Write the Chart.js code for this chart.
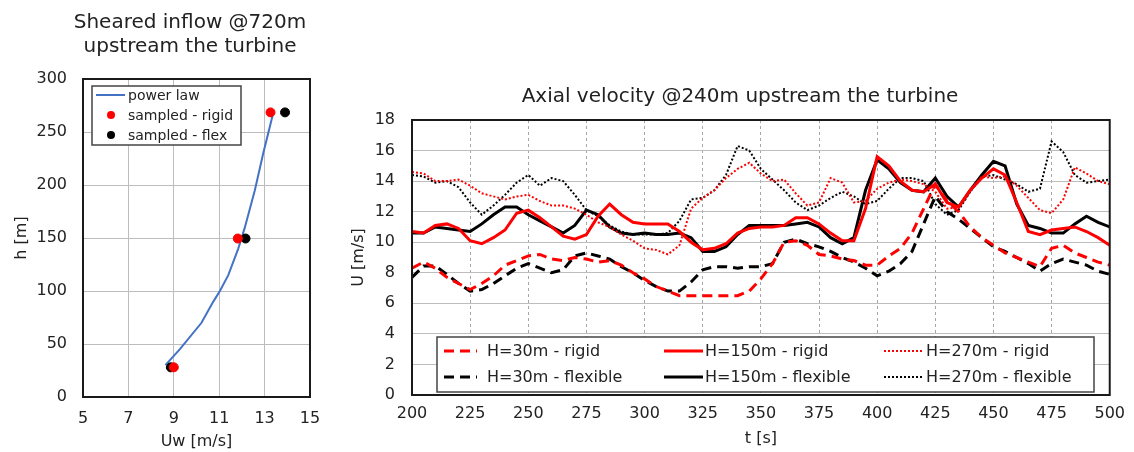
<!DOCTYPE html>
<html>
<head>
<meta charset="utf-8">
<script src="https://cdn.jsdelivr.net/npm/chart.js@4.4.0/dist/chart.umd.min.js"></script>
<style>
    body { margin: 0; background: #fff; }
    #profile { position: absolute; left: 0; top: 0; }
    #axial { position: absolute; left: 340px; top: 0; }
</style>
</head>
<body>
<canvas id="profile" width="340" height="452"></canvas>
<canvas id="axial" width="794" height="452"></canvas>
<script>
// Left chart: inflow profile
var profileU = [8.63, 9.26, 10.22, 10.74, 11.03, 11.40, 11.84, 12.13, 12.57, 12.94, 13.38];
var profileH = [30, 45, 70, 90, 100, 115, 140, 160, 195, 230, 268];
var sampleH = [28, 149.5, 268.5];
var rigidU = [9.00, 11.82, 13.26];
var flexU = [8.87, 12.16, 13.90];

// Right chart: axial velocity time series
var time = [200, 205, 210, 215, 220, 225, 230, 235, 240, 245,
            250, 255, 260, 265, 270, 275, 280, 285, 290, 295,
            300, 305, 310, 315, 320, 325, 330, 335, 340, 345,
            350, 355, 360, 365, 370, 375, 380, 385, 390, 395,
            400, 405, 410, 415, 420, 425, 430, 435, 440, 445,
            450, 455, 460, 465, 470, 475, 480, 485, 490, 495,
            500];
var rigid30 = [8.3, 8.7, 8.3, 7.7, 7.3, 6.9, 7.3, 7.8, 8.5, 8.8,
               9.1, 9.2, 8.9, 8.8, 9.0, 8.9, 8.7, 8.8, 8.5, 8.0,
               7.6, 7.1, 6.8, 6.5, 6.5, 6.5, 6.5, 6.5, 6.5, 6.8,
               7.6, 8.6, 10.0, 10.1, 9.8, 9.2, 9.1, 8.9, 8.8, 8.5,
               8.5, 9.1, 9.6, 10.6, 12.2, 13.8, 12.7, 12.0, 11.0, 10.3,
               9.8, 9.3, 9.0, 8.7, 8.4, 9.6, 9.8, 9.3, 9.0, 8.7,
               8.5];
var flex30 = [7.7, 8.45, 8.45, 7.9, 7.3, 6.8, 6.9, 7.3, 7.8, 8.3,
              8.6, 8.3, 8.0, 8.2, 9.1, 9.3, 9.1, 8.9, 8.4, 8.0,
              7.5, 7.1, 6.8, 6.8, 7.4, 8.2, 8.4, 8.4, 8.3, 8.4,
              8.4, 8.6, 10.0, 10.2, 9.9, 9.7, 9.4, 9.0, 8.7, 8.3,
              7.8, 8.1, 8.6, 9.4, 11.2, 13.0, 12.0, 11.5, 10.9, 10.3,
              9.7, 9.4, 9.0, 8.6, 8.1, 8.6, 8.9, 8.7, 8.5, 8.1,
              7.9];
var rigid150 = [10.7, 10.6, 11.1, 11.2, 10.9, 10.1, 9.9, 10.3, 10.8, 11.9,
                12.1, 11.6, 11.0, 10.4, 10.2, 10.5, 11.7, 12.5, 11.8, 11.3,
                11.2, 11.2, 11.2, 10.7, 10.0, 9.5, 9.6, 9.9, 10.6, 10.9,
                11.0, 11.0, 11.1, 11.6, 11.6, 11.2, 10.6, 10.1, 10.1, 12.2,
                15.6, 15.0, 14.0, 13.4, 13.3, 13.8, 12.6, 12.3, 13.4, 14.2,
                14.8, 14.4, 12.6, 10.7, 10.5, 10.8, 10.9, 11.0, 10.7, 10.3,
                9.8];
var flex150 = [10.6, 10.6, 11.0, 10.9, 10.8, 10.7, 11.2, 11.8, 12.3, 12.3,
               11.8, 11.4, 11.0, 10.6, 11.1, 12.1, 11.8, 11.0, 10.6, 10.5,
               10.6, 10.5, 10.5, 10.6, 10.3, 9.4, 9.4, 9.7, 10.5, 11.1,
               11.1, 11.1, 11.1, 11.2, 11.3, 11.0, 10.3, 9.9, 10.3, 13.4,
               15.4, 14.8, 13.9, 13.4, 13.3, 14.2, 13.0, 12.3, 13.4, 14.4,
               15.3, 15.0, 12.5, 11.1, 10.9, 10.6, 10.6, 11.2, 11.7, 11.3,
               11.0];
var rigid270 = [14.6, 14.5, 14.0, 14.0, 14.1, 13.7, 13.2, 13.0, 12.8, 13.0,
                13.1, 12.7, 12.4, 12.4, 12.2, 11.8, 11.3, 11.0, 10.5, 10.1,
                9.6, 9.5, 9.2, 9.8, 12.2, 12.9, 13.4, 14.2, 14.8, 15.2,
                14.5, 14.0, 14.1, 13.2, 12.4, 12.6, 14.2, 13.9, 12.6, 12.7,
                13.5, 13.9, 14.1, 14.0, 13.8, 13.3, 12.2, 12.3, 13.4, 14.3,
                14.2, 14.3, 13.7, 12.9, 12.1, 11.9, 12.8, 14.9, 14.5, 14.0,
                13.8];
var flex270 = [14.4, 14.3, 13.9, 14.0, 13.6, 12.6, 11.8, 12.4, 13.1, 13.9,
               14.4, 13.7, 14.2, 14.0, 13.1, 12.1, 11.7, 11.1, 10.7, 10.5,
               10.5, 10.5, 10.6, 11.4, 12.8, 12.9, 13.4, 14.4, 16.3, 16.0,
               14.8, 14.1, 13.4, 12.6, 12.1, 12.4, 12.9, 13.3, 13.0, 12.5,
               12.7, 13.5, 14.2, 14.2, 14.0, 12.5, 11.8, 12.1, 13.3, 14.3,
               14.4, 14.1, 13.8, 13.3, 13.5, 16.6, 15.9, 14.4, 13.9, 14.0,
               14.1];

Chart.defaults.font.family = "'DejaVu Sans', sans-serif";
Chart.defaults.font.size = 16;
Chart.defaults.color = '#222';

function pairs(xs, ys) {
    return xs.map(function(x, i) { return {x: x, y: ys[i]}; });
}

// frame around plot area
var framePlugin = {
    id: 'frame',
    afterDatasetsDraw: function(chart) {
        var a = chart.chartArea, ctx = chart.ctx;
        ctx.save();
        ctx.strokeStyle = '#1a1a1a';
        ctx.lineWidth = 2;
        ctx.strokeRect(a.left, a.top, a.right - a.left, a.bottom - a.top);
        ctx.restore();
    }
};

// title text drawn at a fixed place
function titlePlugin(lines, cx, y0, step) {
    return {
        id: 'titleText',
        afterDraw: function(chart) {
            var ctx = chart.ctx;
            ctx.save();
            ctx.font = "20px 'DejaVu Sans'";
            ctx.fillStyle = '#222';
            ctx.textAlign = 'center';
            ctx.textBaseline = 'middle';
            lines.forEach(function(t, i) { ctx.fillText(t, cx, y0 + i * step); });
            ctx.restore();
        }
    };
}

// boxed legend inside the plot area
function legendPlugin(box, entries, fontSize) {
    return {
        id: 'boxLegend',
        afterDraw: function(chart) {
            var a = chart.chartArea, ctx = chart.ctx;
            var bx = a.left + box.dx, by = a.top + box.dy;
            ctx.save();
            ctx.fillStyle = '#fff';
            ctx.fillRect(bx, by, box.w, box.h);
            ctx.strokeStyle = '#444';
            ctx.lineWidth = 1.5;
            ctx.strokeRect(bx, by, box.w, box.h);
            ctx.font = fontSize + "px 'DejaVu Sans'";
            ctx.textBaseline = 'middle';
            entries.forEach(function(e) {
                var y = by + e.y;
                if (e.dot) {
                    ctx.fillStyle = e.color;
                    ctx.beginPath();
                    ctx.arc(bx + e.x0, y, 4, 0, Math.PI * 2);
                    ctx.fill();
                } else {
                    ctx.strokeStyle = e.color;
                    ctx.lineWidth = e.width;
                    ctx.setLineDash(e.dash || []);
                    ctx.beginPath();
                    ctx.moveTo(bx + e.x0, y);
                    ctx.lineTo(bx + e.x1, y);
                    ctx.stroke();
                    ctx.setLineDash([]);
                }
                ctx.fillStyle = '#222';
                ctx.fillText(e.label, bx + e.tx, y + 1);
            });
            ctx.restore();
        }
    };
}

new Chart(document.getElementById('profile'), {
    type: 'scatter',
    data: {
        datasets: [{
            label: 'sampled - rigid',
            data: pairs(rigidU, sampleH),
            backgroundColor: '#ff0000',
            borderColor: '#ff0000',
            pointRadius: 4.5
        }, {
            label: 'sampled - flex',
            data: pairs(flexU, sampleH),
            backgroundColor: '#000',
            borderColor: '#000',
            pointRadius: 4.5
        }, {
            label: 'power law',
            data: pairs(profileU, profileH),
            showLine: true,
            borderColor: '#4472c4',
            borderWidth: 2,
            pointRadius: 0,
            fill: false
        }]
    },
    options: {
        responsive: false,
        animation: false,
        layout: { padding: { left: 0, top: 79, right: 30, bottom: 0 } },
        plugins: { legend: { display: false }, tooltip: { enabled: false } },
        scales: {
            x: {
                type: 'linear', min: 5, max: 15,
                ticks: { stepSize: 2, padding: 12 },
                grid: { color: '#bdbdbd', drawTicks: false },
                border: { display: false },
                title: { display: true, text: 'Uw [m/s]', padding: { top: 0, bottom: 1 } },
                afterFit: function(s) { s.height = 55; }
            },
            y: {
                min: 0, max: 300,
                ticks: { stepSize: 50, padding: 16 },
                grid: { color: '#bdbdbd', drawTicks: false },
                border: { display: false },
                title: { display: true, text: 'h [m]', padding: { top: 12, bottom: 0 } },
                afterFit: function(s) { s.width = 83; }
            }
        }
    },
    plugins: [
        framePlugin,
        titlePlugin(['Sheared inflow @720m', 'upstream the turbine'], 190, 23, 24),
        legendPlugin({dx: 9, dy: 7, w: 149, h: 59}, [
            {label: 'power law', color: '#4472c4', width: 2, x0: 4, x1: 33, tx: 36, y: 9},
            {label: 'sampled - rigid', color: '#ff0000', dot: true, x0: 19, tx: 36, y: 29},
            {label: 'sampled - flex', color: '#000', dot: true, x0: 19, tx: 36, y: 49}
        ], 14)
    ]
});

var dashLong = [10, 6];
var dots = [2, 2];

new Chart(document.getElementById('axial'), {
    type: 'line',
    data: {
        datasets: [
            {label: 'H=30m - rigid', data: pairs(time, rigid30), borderColor: '#ff0000', borderWidth: 3, borderDash: dashLong},
            {label: 'H=150m - rigid', data: pairs(time, rigid150), borderColor: '#ff0000', borderWidth: 3},
            {label: 'H=270m - rigid', data: pairs(time, rigid270), borderColor: '#ff0000', borderWidth: 2, borderDash: dots},
            {label: 'H=30m - flexible', data: pairs(time, flex30), borderColor: '#000', borderWidth: 3, borderDash: dashLong},
            {label: 'H=150m - flexible', data: pairs(time, flex150), borderColor: '#000', borderWidth: 3},
            {label: 'H=270m - flexible', data: pairs(time, flex270), borderColor: '#000', borderWidth: 2, borderDash: dots}
        ]
    },
    options: {
        responsive: false,
        animation: false,
        elements: { point: { radius: 0 }, line: { tension: 0 } },
        layout: { padding: { left: 0, top: 120, right: 19, bottom: 0 } },
        plugins: { legend: { display: false }, tooltip: { enabled: false } },
        scales: {
            x: {
                type: 'linear', min: 200, max: 500,
                ticks: { stepSize: 25, padding: 9 },
                grid: { color: '#a6a6a6', drawTicks: false },
                border: { display: false, dash: [3, 3] },
                title: { display: true, text: 't [s]', padding: { top: 0, bottom: 4 } },
                afterFit: function(s) { s.height = 57; }
            },
            y: {
                min: 0, max: 18,
                ticks: { stepSize: 2, padding: 17 },
                grid: { color: '#bdbdbd', drawTicks: false },
                border: { display: false },
                title: { display: true, text: 'U [m/s]', padding: { top: 9, bottom: 0 } },
                afterFit: function(s) { s.width = 72; }
            }
        }
    },
    plugins: [
        framePlugin,
        titlePlugin(['Axial velocity @240m upstream the turbine'], 400, 97, 24),
        legendPlugin({dx: 25, dy: 217, w: 657, h: 55}, [
            {label: 'H=30m - rigid', color: '#ff0000', width: 3, dash: dashLong, x0: 7, x1: 40, tx: 50, y: 14},
            {label: 'H=150m - rigid', color: '#ff0000', width: 3, x0: 227, x1: 266, tx: 268, y: 14},
            {label: 'H=270m - rigid', color: '#ff0000', width: 2, dash: dots, x0: 447, x1: 485, tx: 489, y: 14},
            {label: 'H=30m - flexible', color: '#000', width: 3, dash: dashLong, x0: 7, x1: 40, tx: 50, y: 40},
            {label: 'H=150m - flexible', color: '#000', width: 3, x0: 227, x1: 266, tx: 268, y: 40},
            {label: 'H=270m - flexible', color: '#000', width: 2, dash: dots, x0: 447, x1: 485, tx: 489, y: 40}
        ], 16)
    ]
});
</script>
</body>
</html>
